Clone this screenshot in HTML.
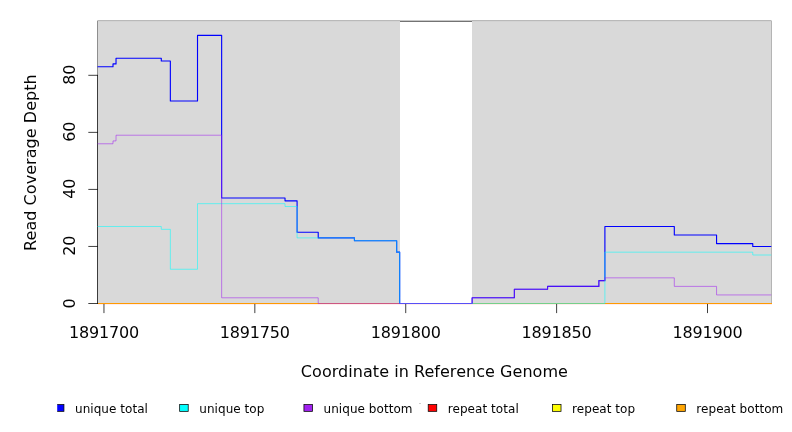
<!DOCTYPE html>
<html><head><meta charset="utf-8"><title>Read coverage</title>
<style>
html,body{margin:0;padding:0;background:#fff;}
svg{display:block;}
text{font-family:"DejaVu Sans","Liberation Sans",sans-serif;fill:#000;}
</style></head><body>
<svg width="792" height="432" viewBox="0 0 792 432">
<rect x="0" y="0" width="792" height="432" fill="#fff"/>
<defs><clipPath id="lc"><rect x="57.2" y="400" width="20" height="20"/></clipPath></defs>
<!-- plot frame -->
<g shape-rendering="crispEdges">
<rect x="97" y="20" width="675" height="284" fill="#B9B9B9"/>
<rect x="98" y="21" width="673" height="283" fill="#D9D9D9"/>
<rect x="98" y="21" width="673" height="1" fill="#D3D3D3"/>
<rect x="98" y="304" width="674" height="1" fill="#FFEDED"/>
<rect x="400" y="20" width="72" height="1" fill="#C8C8C8"/>
<rect x="400" y="21" width="72" height="1" fill="#737373"/>
<rect x="400" y="22" width="72" height="282" fill="#fff"/>
<rect x="97" y="21" width="1" height="54" fill="#8E8E8E"/>
<rect x="97" y="20" width="1" height="1" fill="#CFCFCF"/>
<rect x="771" y="20" width="1" height="1" fill="#D8D8D8"/>
<rect x="771" y="21" width="1" height="283" fill="#B4B4B4"/>
<rect x="97" y="75" width="1" height="229" fill="#3C3C3C"/>
</g>
<g stroke="#000" stroke-width="0.75" fill="none"><line x1="103.96" y1="303.5" x2="103.96" y2="313.1"/><line x1="254.84" y1="303.5" x2="254.84" y2="313.1"/><line x1="405.73" y1="303.5" x2="405.73" y2="313.1"/><line x1="556.62" y1="303.5" x2="556.62" y2="313.1"/><line x1="707.51" y1="303.5" x2="707.51" y2="313.1"/> <line x1="88.32" y1="303.50" x2="97.92" y2="303.50"/><line x1="88.32" y1="246.45" x2="97.92" y2="246.45"/><line x1="88.32" y1="189.41" x2="97.92" y2="189.41"/><line x1="88.32" y1="132.36" x2="97.92" y2="132.36"/><line x1="88.32" y1="75.31" x2="97.92" y2="75.31"/></g>
<!-- zero lines (repeat series) -->
<g fill="none" stroke-linecap="butt">
<path d="M97.92 303.50 L771.60 303.50" stroke="#FF9A00" stroke-width="1" shape-rendering="crispEdges"/>
</g>
<g fill="none" stroke-linejoin="round" stroke-linecap="round">
<path d="M97.92 66.76 L113.01 66.76 L113.01 63.90 L116.03 63.90 L116.03 58.20 L161.29 58.20 L161.29 61.05 L170.35 61.05 L170.35 100.99 L197.51 100.99 L197.51 35.38 L221.65 35.38 L221.65 197.96 L285.02 197.96 L285.02 200.82 L297.09 200.82 L297.09 232.19 L318.22 232.19 L318.22 237.90 L354.43 237.90 L354.43 240.75 L396.68 240.75 L396.68 252.16 L399.70 252.16 L399.70 303.50 L472.12 303.50 L472.12 297.80 L514.37 297.80 L514.37 289.24 L547.57 289.24 L547.57 286.39 L598.87 286.39 L598.87 280.68 L604.90 280.68 L604.90 226.49 L674.31 226.49 L674.31 235.04 L716.56 235.04 L716.56 243.60 L752.77 243.60 L752.77 246.45 L770.88 246.45" stroke="#0000FF" stroke-width="1.125"/>
<path d="M97.92 226.49 L161.29 226.49 L161.29 229.34 L170.35 229.34 L170.35 269.27 L197.51 269.27 L197.51 203.67 L285.02 203.67 L285.02 206.52 L297.09 206.52 L297.09 237.90 L354.43 237.90 L354.43 240.75 L396.68 240.75 L396.68 252.16 L399.70 252.16 L399.70 303.50 L604.90 303.50 L604.90 252.16 L752.77 252.16 L752.77 255.01 L770.88 255.01" stroke="#00FFFF" stroke-width="0.75" stroke-opacity="0.72"/>
<path d="M97.92 143.77 L113.01 143.77 L113.01 140.92 L116.03 140.92 L116.03 135.21 L221.65 135.21 L221.65 297.80 L318.22 297.80 L318.22 303.50 L472.12 303.50 L472.12 297.80 L514.37 297.80 L514.37 289.24 L547.57 289.24 L547.57 286.39 L598.87 286.39 L598.87 280.68 L604.90 280.68 L604.90 277.83 L674.31 277.83 L674.31 286.39 L716.56 286.39 L716.56 294.94 L770.88 294.94" stroke="#A020F0" stroke-width="0.75" stroke-opacity="0.72"/>
</g>
<g opacity="0.99"><g font-size="16"><text x="103.96" y="338.1" text-anchor="middle" letter-spacing="-0.18">1891700</text><text x="254.84" y="338.1" text-anchor="middle" letter-spacing="-0.18">1891750</text><text x="405.73" y="338.1" text-anchor="middle" letter-spacing="-0.18">1891800</text><text x="556.62" y="338.1" text-anchor="middle" letter-spacing="-0.18">1891850</text><text x="707.51" y="338.1" text-anchor="middle" letter-spacing="-0.18">1891900</text> <text transform="translate(74.9 303.60) rotate(-90)" text-anchor="middle" letter-spacing="-0.18">0</text><text transform="translate(74.9 245.85) rotate(-90)" text-anchor="middle" letter-spacing="-0.18">20</text><text transform="translate(74.9 188.81) rotate(-90)" text-anchor="middle" letter-spacing="-0.18">40</text><text transform="translate(74.9 131.76) rotate(-90)" text-anchor="middle" letter-spacing="-0.18">60</text><text transform="translate(74.9 74.71) rotate(-90)" text-anchor="middle" letter-spacing="-0.18">80</text>
<text x="434.4" y="376.7" text-anchor="middle" letter-spacing="0.045">Coordinate in Reference Genome</text>
<text transform="translate(35.6 162.6) rotate(-90)" text-anchor="middle" letter-spacing="0.05">Read Coverage Depth</text>
</g>
<g><rect x="55.39" y="404.55" width="8.55" height="6.8" fill="#0000FF" stroke="#000" stroke-width="0.75" clip-path="url(#lc)"/><rect x="179.66" y="404.55" width="8.55" height="6.8" fill="#00FFFF" stroke="#000" stroke-width="0.75"/><rect x="303.93" y="404.55" width="8.55" height="6.8" fill="#A020F0" stroke="#000" stroke-width="0.75"/><rect x="428.20" y="404.55" width="8.55" height="6.8" fill="#FF0000" stroke="#000" stroke-width="0.75"/><rect x="552.47" y="404.55" width="8.55" height="6.8" fill="#FFFF00" stroke="#000" stroke-width="0.75"/><rect x="676.74" y="404.55" width="8.55" height="6.8" fill="#FFA500" stroke="#000" stroke-width="0.75"/><rect x="419" y="403" width="2" height="1" fill="#CFCFCF" shape-rendering="crispEdges"/></g>
<g font-size="12"><text x="75.00" y="413.3" letter-spacing="0.05">unique total</text><text x="199.27" y="413.3" letter-spacing="0.05">unique top</text><text x="323.54" y="413.3" letter-spacing="0.05">unique bottom</text><text x="447.81" y="413.3" letter-spacing="0.05">repeat total</text><text x="572.08" y="413.3" letter-spacing="0.05">repeat top</text><text x="696.35" y="413.3" letter-spacing="0.05">repeat bottom</text></g></g>
</svg>
</body></html>
